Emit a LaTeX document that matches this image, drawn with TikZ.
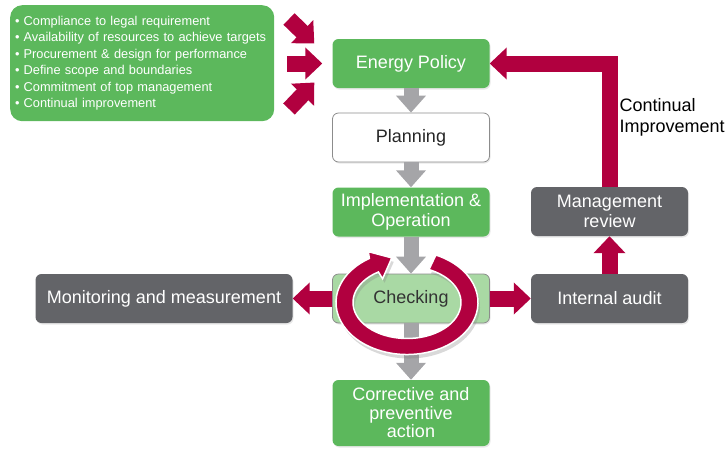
\documentclass[tikz,border=0pt]{standalone}
\usepackage{fontspec}
\setmainfont{Liberation Sans}
\usetikzlibrary{calc,arrows.meta,shadows}
\definecolor{enGreen}{RGB}{92,184,92}
\definecolor{enLight}{RGB}{169,217,164}
\definecolor{enDark}{RGB}{99,100,104}
\definecolor{enRed}{RGB}{177,0,63}
\definecolor{enArrow}{RGB}{165,165,168}
\tikzset{
    block/.style = {rectangle, rounded corners=6pt, minimum width=157pt,
        minimum height=49pt, align=center, inner sep=2pt,
        font=\fontsize{18}{20}\selectfont,
        drop shadow={opacity=0.18, shadow xshift=1pt, shadow yshift=-1.5pt}},
    greenbox/.style = {block, fill=enGreen, text=white},
    whitebox/.style = {block, fill=white, draw=black!45, line width=0.8pt, text=black!85},
    checkbox/.style = {block, fill=enLight, draw=black!45, line width=0.8pt, text=black!80},
    graybox/.style = {block, fill=enDark, text=white},
    notebox/.style = {rectangle, rounded corners=12pt, fill=enGreen, text=white,
        minimum width=264pt, minimum height=116pt, text width=258pt, inner xsep=3pt,
        inner ysep=5pt, align=left, font=\fontsize{12.8}{16.5}\selectfont},
    grayarrow/.style = {draw=enArrow, line width=15pt, -{Triangle[width=29pt,length=17pt]}},
    redarrow/.style = {draw=enRed, line width=16pt, -{Triangle[width=31pt,length=17pt]}}
}

\begin{document}
\begin{tikzpicture}[x=1pt, y=1pt]
    \useasboundingbox (0,0) rectangle (728,-448);
    \node [notebox, anchor=north west] (notes) at (10,-5) {%
        \hspace{2pt}\textbullet\hspace{4pt}Compliance to legal requirement\\
        \hspace{2pt}\textbullet\hspace{4pt}Availability of resources to achieve targets\\
        \hspace{2pt}\textbullet\hspace{4pt}Procurement \& design for performance\\
        \hspace{2pt}\textbullet\hspace{4pt}Define scope and boundaries\\
        \hspace{2pt}\textbullet\hspace{4pt}Commitment of top management\\
        \hspace{2pt}\textbullet\hspace{4pt}Continual improvement};
    \node [greenbox] (policy) at (411,-63.5) {Energy Policy};
    \node [whitebox, below of=policy, node distance=74pt] (planning) {Planning};
    \node [greenbox, below of=planning, node distance=74.5pt] (impl) {Implementation \&\\Operation};
    \node [checkbox, below of=impl, node distance=86.5pt] (check) {Checking};
    \node [greenbox, below of=check, node distance=114.5pt, minimum height=66pt,
        font=\fontsize{18}{18.5}\selectfont] (action) {Corrective and\\preventive\\action};
    \node [graybox, left of=check, node distance=247pt, minimum width=257pt] (monitor) {Monitoring and measurement};
    \node [graybox, right of=check, node distance=198.5pt] (audit) {Internal audit};
    \node [graybox, above of=audit, node distance=87pt] (review) {Management\\review};
    \node [anchor=north west, align=left, font=\fontsize{18}{21}\selectfont] (ci) at (616,-95) {Continual\\Improvement};

    \coordinate (in1) at (289,-19);
    \coordinate (in2) at (287,-63.5);
    \coordinate (in3) at (289,-109);
    \draw [redarrow] (in1) -- ($(policy.west)+(-18,20)$);
    \draw [redarrow] (in2) -- ($(policy.west)+(-10,0)$);
    \draw [redarrow] (in3) -- ($(policy.west)+(-18,-19)$);

    \draw [grayarrow] (policy) -- (planning);
    \draw [grayarrow] (planning) -- (impl);
    \draw [grayarrow] (impl) -- (check);
    \draw [grayarrow] (check) -- (action);

    \draw [redarrow] (check) -- (monitor);
    \draw [redarrow] (check) -- (audit);
    \draw [redarrow] (audit) -- (review);
    \draw [redarrow] (review.north) |- (policy.east);

    \coordinate (ring) at ($(check)+(-4,-4)$);
    \filldraw [fill=enRed, draw=white, line width=1.5pt,
        drop shadow={opacity=0.3, shadow xshift=2pt, shadow yshift=-4pt}]
        ($(ring)+(66:71pt and 52pt)$) arc [start angle=66, end angle=-238, x radius=71pt, y radius=52pt]
        -- ($(ring)+(122:73pt and 60pt)$) -- ($(ring)+(104:63pt and 46pt)$)
        -- ($(ring)+(122:46pt and 28pt)$) -- ($(ring)+(122:54pt and 36pt)$)
        arc [start angle=-238, end angle=66, x radius=54pt, y radius=36pt] -- cycle;
\end{tikzpicture}
\end{document}
